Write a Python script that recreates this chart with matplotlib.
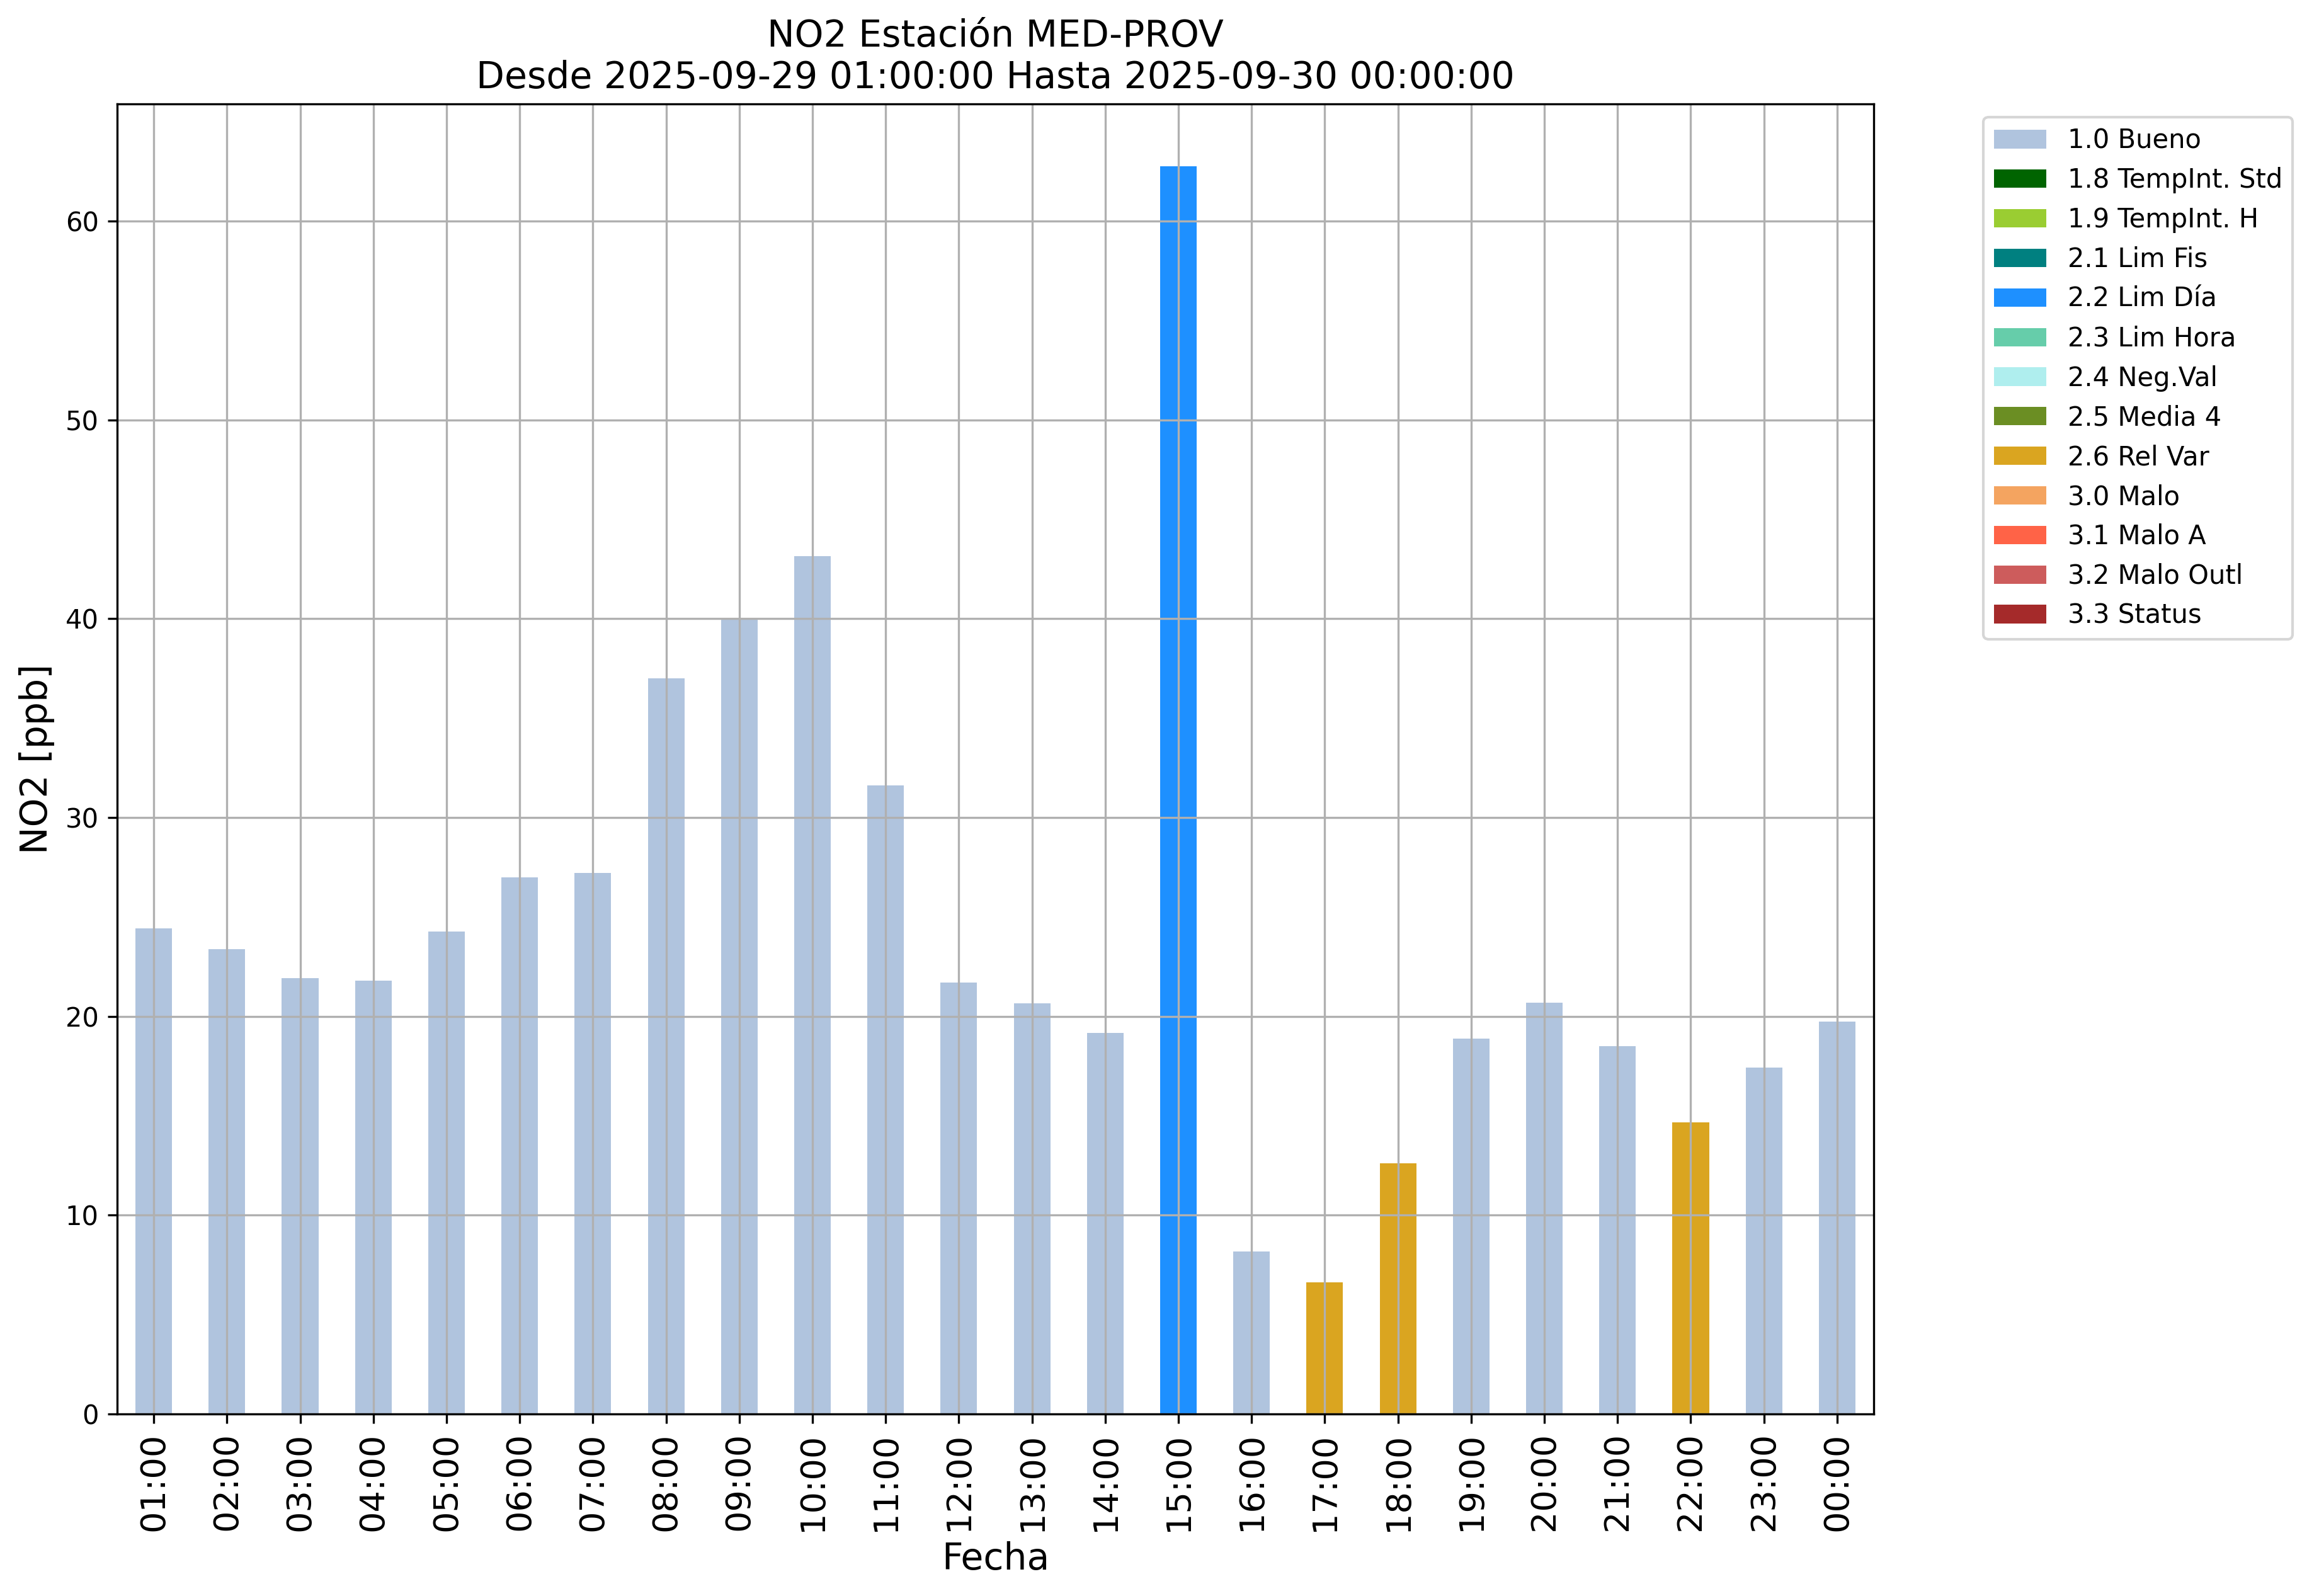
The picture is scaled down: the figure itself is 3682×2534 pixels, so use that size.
import matplotlib
matplotlib.use("Agg")
import matplotlib.pyplot as plt
from matplotlib.patches import Patch

hours = ["01:00", "02:00", "03:00", "04:00", "05:00", "06:00", "07:00", "08:00",
         "09:00", "10:00", "11:00", "12:00", "13:00", "14:00", "15:00", "16:00",
         "17:00", "18:00", "19:00", "20:00", "21:00", "22:00", "23:00", "00:00"]
no2 = [24.43, 23.38, 21.91, 21.81, 24.27, 26.98, 27.20, 36.99,
       40.06, 43.14, 31.63, 21.71, 20.67, 19.18, 62.76, 8.17,
       6.62, 12.62, 18.89, 20.70, 18.50, 14.67, 17.44, 19.75]
flags = ["1.0", "1.0", "1.0", "1.0", "1.0", "1.0", "1.0", "1.0",
         "1.0", "1.0", "1.0", "1.0", "1.0", "1.0", "2.2", "1.0",
         "2.6", "2.6", "1.0", "1.0", "1.0", "2.6", "1.0", "1.0"]

flag_codes = ["1.0", "1.8", "1.9", "2.1", "2.2", "2.3", "2.4", "2.5", "2.6",
              "3.0", "3.1", "3.2", "3.3"]
flag_names = ["1.0 Bueno", "1.8 TempInt. Std", "1.9 TempInt. H", "2.1 Lim Fis",
              "2.2 Lim Día", "2.3 Lim Hora", "2.4 Neg.Val", "2.5 Media 4",
              "2.6 Rel Var", "3.0 Malo", "3.1 Malo A", "3.2 Malo Outl", "3.3 Status"]
flag_colors = ["lightsteelblue", "darkgreen", "yellowgreen", "teal", "dodgerblue",
               "mediumaquamarine", "paleturquoise", "olivedrab", "goldenrod",
               "sandybrown", "tomato", "indianred", "brown"]

W, H = 3682, 2534
fig = plt.figure(figsize=(W / 300, H / 300), dpi=300)
ax = fig.add_axes([186 / W, 1 - 2245 / H, (2975 - 186) / W, (2245 - 165) / H])

cmap = dict(zip(flag_codes, flag_colors))
x = list(range(len(hours)))
ax.bar(x, no2, width=0.5, color=[cmap[f] for f in flags])
ax.set_xlim(-0.5, len(hours) - 0.5)
ax.set_xticks(x)
ax.set_xticklabels(hours, rotation=90, fontsize=13)
ax.tick_params(axis="y", labelsize=10)
ax.grid(True)
ax.set_xlabel("Fecha", fontsize=14)
ax.set_ylabel("NO2 [ppb]", fontsize=14)
ax.set_title("NO2 Estación MED-PROV\nDesde 2025-09-29 01:00:00 Hasta 2025-09-30 00:00:00",
             fontsize=14)

handles = [Patch(facecolor=c, label=n) for c, n in zip(flag_colors, flag_names)]
ax.legend(handles=handles, loc="upper left", bbox_to_anchor=(1.055, 1), fontsize=10)

fig.savefig("out.png", dpi=300)
